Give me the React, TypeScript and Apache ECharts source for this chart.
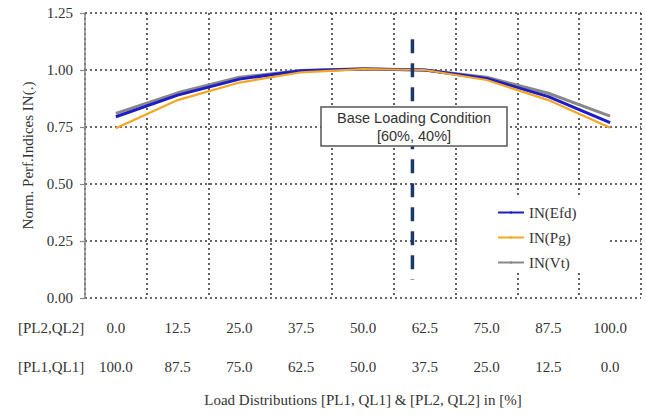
import React, { useEffect, useRef } from "react";
import * as echarts from "echarts";

const pl2Labels = ["0.0", "12.5", "25.0", "37.5", "50.0", "62.5", "75.0", "87.5", "100.0"];
const pl1Labels = ["100.0", "87.5", "75.0", "62.5", "50.0", "37.5", "25.0", "12.5", "0.0"];
const inEfd = [0.795, 0.89, 0.96, 0.997, 1.004, 1.0, 0.963, 0.883, 0.769];
const inPg = [0.744, 0.868, 0.945, 0.99, 1.004, 1.0, 0.956, 0.868, 0.747];
const inVt = [0.81, 0.9, 0.968, 0.998, 1.006, 1.0, 0.968, 0.898, 0.798];
// base loading condition: PL2 = 60% -> category index 60 / 12.5
const baseIndex = 60 / 12.5;
const baseLine = [
  [baseIndex, 1.135],
  [baseIndex, 0.08],
];
const yTicks = { min: 0, max: 1.25, interval: 0.25 };

const serif = "Liberation Serif";
const sans = "Liberation Sans";

export default function App() {
  const ref = useRef<HTMLDivElement>(null);
  useEffect(() => {
    if (!ref.current) return;
    const chart = echarts.init(ref.current, null, { renderer: "svg" });
    const gridLine = { color: "#3a3a3a", width: 1.6, type: [2, 3] as any };
    chart.setOption({
      animation: false,
      backgroundColor: "#fff",
      grid: { left: 85, right: 5, top: 13, bottom: 117, outerBoundsMode: "none" },
      xAxis: [
        {
          type: "category",
          data: pl2Labels,
          boundaryGap: true,
          axisLine: { show: false },
          axisTick: { show: false },
          axisLabel: { interval: 0, margin: 22, color: "#333", fontFamily: serif, fontSize: 15 },
          splitLine: { show: true, interval: 0, lineStyle: gridLine },
        },
        {
          type: "category",
          data: pl1Labels,
          position: "bottom",
          boundaryGap: true,
          axisLine: { show: false },
          axisTick: { show: false },
          axisLabel: { interval: 0, margin: 61, color: "#333", fontFamily: serif, fontSize: 15 },
          splitLine: { show: false },
        },
        {
          type: "value",
          min: -0.5,
          max: 8.5,
          show: false,
          axisLine: { onZero: false },
          splitLine: { show: false },
        },
      ],
      yAxis: {
        type: "value",
        min: yTicks.min,
        max: yTicks.max,
        interval: yTicks.interval,
        name: "Norm. Perf.Indices IN(.)",
        nameLocation: "middle",
        nameGap: 44,
        nameTextStyle: { color: "#333", fontFamily: serif, fontSize: 15 },
        axisLine: { show: true, onZero: false, lineStyle: { color: "#888", width: 1.5 } },
        axisTick: { show: true, length: 5, lineStyle: { color: "#888", width: 1.2 } },
        axisLabel: {
          margin: 12,
          color: "#333",
          fontFamily: serif,
          fontSize: 15,
          formatter: (v: number) => v.toFixed(2),
        },
        splitLine: { show: true, lineStyle: gridLine },
      },
      legend: {
        data: ["IN(Efd)", "IN(Pg)", "IN(Vt)"],
        orient: "vertical",
        left: 460,
        top: 197,
        backgroundColor: "#fff",
        padding: [8, 31, 3, 37],
        itemWidth: 26,
        itemHeight: 3,
        itemGap: 10,
        textStyle: { color: "#333", fontFamily: serif, fontSize: 15, lineHeight: 15 },
      },
      series: [
        {
          name: "IN(Efd)",
          type: "line",
          data: inEfd,
          symbol: "none",
          z: 4,
          lineStyle: { color: "#1c1cc8", width: 3 },
          itemStyle: { color: "#1c1cc8" },
        },
        {
          name: "IN(Pg)",
          type: "line",
          data: inPg,
          symbol: "none",
          z: 5,
          lineStyle: { color: "#f5a623", width: 2.2 },
          itemStyle: { color: "#f5a623" },
        },
        {
          name: "IN(Vt)",
          type: "line",
          data: inVt,
          symbol: "none",
          z: 3,
          lineStyle: { color: "#888888", width: 3 },
          itemStyle: { color: "#888888" },
        },
        {
          name: "base",
          type: "line",
          xAxisIndex: 2,
          data: baseLine,
          symbol: "none",
          silent: true,
          z: 6,
          lineStyle: { color: "#1b3968", width: 3.5, type: [14, 10] },
        },
      ],
      graphic: [
        {
          type: "group",
          z: 100,
          children: [
            {
              type: "rect",
              shape: { x: 321, y: 107, width: 186, height: 39 },
              style: { fill: "#fff", stroke: "#555", lineWidth: 1.5 },
              z: 100,
            },
            {
              type: "text",
              x: 414,
              y: 127,
              z: 101,
              style: {
                text: "Base Loading Condition\n[60%, 40%]",
                fill: "#333",
                font: `14.5px ${sans}`,
                lineHeight: 18,
                align: "center",
                verticalAlign: "middle",
              },
            },
          ],
        },
        {
          type: "text",
          x: 18,
          y: 328,
          style: {
            text: "[PL2,QL2]",
            fill: "#333",
            font: `15px ${serif}`,
            verticalAlign: "middle",
          },
        },
        {
          type: "text",
          x: 18,
          y: 367,
          style: {
            text: "[PL1,QL1]",
            fill: "#333",
            font: `15px ${serif}`,
            verticalAlign: "middle",
          },
        },
        {
          type: "text",
          x: 363,
          y: 400,
          style: {
            text: "Load Distributions [PL1, QL1] & [PL2, QL2] in [%]",
            fill: "#333",
            font: `15px ${serif}`,
            align: "center",
            verticalAlign: "middle",
          },
        },
      ],
    });
    return () => chart.dispose();
  }, []);
  return (
    <div
      ref={ref}
      style={{ position: "fixed", left: 0, top: 0, width: 646, height: 415, background: "#fff" }}
    />
  );
}
